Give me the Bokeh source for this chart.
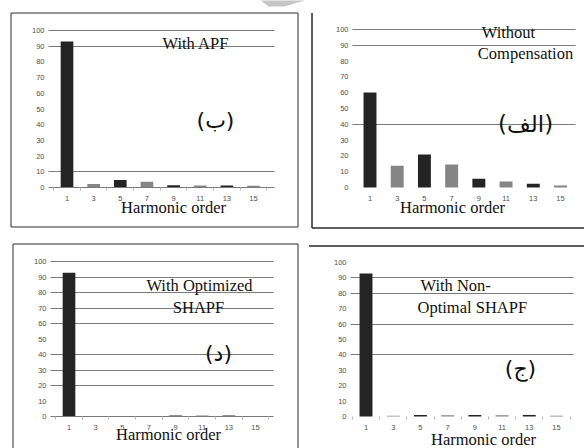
from bokeh.plotting import figure
from bokeh.models import (Range1d, FixedTicker, Label, BoxAnnotation, PolyAnnotation,
                          ColumnDataSource, AllLabels)
from bokeh.layouts import column, row
from bokeh.embed import file_html
from bokeh.resources import INLINE

# ---- data ----
harmonic_order = [1, 3, 5, 7, 9, 11, 13, 15]
harmonic_labels = ["1", "3", "5", "7", "9", "11", "13", "15"]
without_compensation = [60.1, 13.7, 20.9, 14.6, 5.5, 3.8, 2.3, 1.3]
with_apf = [93.0, 2.3, 4.7, 3.6, 1.5, 1.3, 1.3, 1.1]
with_optimized_shapf = [92.7, 0.0, 0.0, 0.0, 0.7, 0.7, 0.7, 0.0]
with_non_optimal_shapf = [92.8, 0.5, 1.0, 0.8, 1.0, 0.8, 1.0, 0.5]
y_ticks = [0, 10, 20, 30, 40, 50, 60, 70, 80, 90, 100]
minor_x_ticks = [0, 2, 4, 6, 8, 10, 12, 14, 16]
bar_colors = ["#242424", "#858585", "#242424", "#858585", "#242424", "#858585", "#242424", "#858585"]

SERIF = "Liberation Serif"
ARABIC = "DejaVu Sans"


def make_panel(values, cell, anchors, area, grid_vals, texts, borders, axis_line=True,
               minor_color="#b8b8b8", polys=()):
    cx, cy, w, h = cell
    X1, X15, Y0, Y100 = anchors
    left_px, right_px = area
    sx = (X15 - X1) / 14.0
    sy = (Y0 - Y100) / 100.0
    x_start = 1 - (X1 - cx) / sx
    y_start = -(cy + h - Y0) / sy

    def dx(px):
        return x_start + (px - cx) / sx

    def dy(py):
        return y_start + (cy + h - py) / sy

    p = figure(width=w, height=h, output_backend="svg", toolbar_location=None,
               x_range=Range1d(x_start, x_start + w / sx),
               y_range=Range1d(y_start, y_start + h / sy),
               min_border=0, min_border_left=0, min_border_right=0,
               min_border_top=0, min_border_bottom=0, title=None)
    p.outline_line_color = None
    p.background_fill_color = "white"
    p.border_fill_color = "white"

    src = ColumnDataSource(dict(h=harmonic_order, v=values, c=bar_colors))
    p.vbar(x="h", top="v", width=0.95, fill_color="c", line_color=None, source=src)

    p.xgrid.grid_line_color = None
    g = p.ygrid[0]
    g.ticker = FixedTicker(ticks=grid_vals)
    g.grid_line_color = "#7a7a7a"
    g.grid_line_width = 1
    if "cross_bounds" in g.properties():
        g.cross_bounds = (dx(left_px), dx(right_px))

    yax = p.yaxis[0]
    yax.fixed_location = dx(left_px)
    yax.bounds = (-0.5, 100.5)
    yax.ticker = FixedTicker(ticks=y_ticks)
    yax.major_label_policy = AllLabels()
    yax.axis_line_color = None
    yax.major_tick_line_color = None
    yax.minor_tick_line_color = None
    yax.major_tick_in = 0
    yax.major_tick_out = 0
    yax.major_label_standoff = 4
    yax.major_label_text_font = "Liberation Sans"
    yax.major_label_text_font_size = "7.5px"
    yax.major_label_text_color = "#505050"

    xax = p.xaxis[0]
    xax.fixed_location = 0
    xax.bounds = (dx(left_px), dx(right_px))
    xax.ticker = FixedTicker(ticks=harmonic_order, minor_ticks=minor_x_ticks)
    xax.major_label_policy = AllLabels()
    xax.major_label_overrides = {k: v for k, v in zip(harmonic_order, harmonic_labels)}
    xax.axis_line_color = "#7a7a7a" if axis_line else None
    xax.major_tick_line_color = None
    xax.major_tick_in = 0
    xax.major_tick_out = 0
    xax.minor_tick_line_color = minor_color
    xax.minor_tick_in = 0
    xax.minor_tick_out = 3
    xax.major_label_standoff = 5
    xax.major_label_text_font = "Liberation Sans"
    xax.major_label_text_font_size = "7.5px"
    xax.major_label_text_color = "#505050"

    for (txt, px, py, align, size, font) in texts:
        p.add_layout(Label(x=dx(px), y=dy(py), text=txt, text_align=align,
                           text_baseline="middle", text_font=font,
                           text_font_size=f"{size}px", text_color="#111111"))

    for (x0, y0, x1, y1) in borders:
        p.add_layout(BoxAnnotation(left=dx(x0), right=dx(x1), top=dy(y0), bottom=dy(y1),
                                   fill_color=None, fill_alpha=0, line_color="#2a2a2a",
                                   line_width=1, line_alpha=1))
    for pts in polys:
        p.add_layout(PolyAnnotation(xs=[dx(a) for a, b in pts], ys=[dy(b) for a, b in pts],
                                    fill_color="#c6c6c6", fill_alpha=1, line_color=None))
    return p


p1 = make_panel(
    with_apf, (0, 0, 304, 236), (66.5, 253, 187, 30), (48, 274), [90, 100, 10],
    [("With APF", 162, 43, "left", 16.5, SERIF),
     ("(ب)", 215, 120, "center", 22, ARABIC),
     ("Harmonic order", 173, 207, "center", 16.5, SERIF)],
    [(10.5, 12.5, 297.5, 226.5)],
    polys=[[(258, -2), (304, -2), (304, 0), (284, 6), (268, 6)]])

p2 = make_panel(
    without_compensation, (304, 0, 280, 236), (369.5, 560, 187, 29), (352, 575), [100, 90, 40],
    [("Without", 508, 32, "center", 16.5, SERIF),
     ("Compensation", 525, 53, "center", 16.5, SERIF),
     ("(الف)", 525, 123, "center", 23, ARABIC),
     ("Harmonic order", 452, 207, "center", 16.5, SERIF)],
    [(311.5, 12.5, 311.5, 227.5), (311.5, 227.5, 600, 227.5)],
    axis_line=False, minor_color=None)

p3 = make_panel(
    with_optimized_shapf, (0, 236, 304, 212), (68.5, 255, 416, 261), (50, 273),
    [100, 90, 80, 70, 60, 40, 30, 20],
    [("With Optimized", 199, 285, "center", 16.5, SERIF),
     ("SHAPF", 198, 307, "center", 16.5, SERIF),
     ("(د)", 218, 353, "center", 22, ARABIC),
     ("Harmonic order", 168, 434, "center", 16.5, SERIF)],
    [(12.5, 243.5, 297.5, 470)])

p4 = make_panel(
    with_non_optimal_shapf, (304, 236, 280, 212), (365.5, 556, 416, 262), (350, 573), [90, 80, 60, 40],
    [("With Non-", 420, 285, "left", 16.5, SERIF),
     ("Optimal SHAPF", 417, 307, "left", 16.5, SERIF),
     ("(ج)", 520, 368, "center", 22, ARABIC),
     ("Harmonic order", 483, 439, "center", 16.5, SERIF)],
    [(308.5, 245.5, 600, 245.5)],
    axis_line=False)

layout = column(row(p1, p2), row(p3, p4))
open("out.html", "w").write(file_html(layout, INLINE))
